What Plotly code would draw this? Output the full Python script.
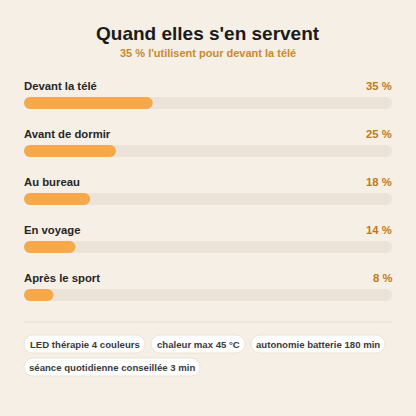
import math
import plotly.graph_objects as go

categories = ["Devant la télé", "Avant de dormir", "Au bureau", "En voyage", "Après le sport"]
values = [35, 25, 18, 14, 8]
chips = [["LED thérapie 4 couleurs", "chaleur max 45 °C", "autonomie batterie 180 min"],
         ["séance quotidienne conseillée 3 min"]]

W = 416.0
bg = "#f5efe6"
ypos = [103 + 48 * i for i in range(len(categories))]

fig = go.Figure()
for vals, col in [([100] * len(values), "#ebe3d8"), (values, "#f5a94a")]:
    fig.add_trace(go.Bar(x=vals, base=0.001, y=ypos, orientation="h", width=12,
                         marker=dict(color=col, cornerradius="50%", line_width=0), hoverinfo="skip"))

ann = []
font = "Liberation Sans, Arial, sans-serif"


def txt(x, y, text, size, color, anchor="center"):
    ann.append(dict(xref="paper", yref="paper", x=x / W, y=1 - y / W, text=text, showarrow=False,
                    xanchor=anchor, yanchor="middle", font=dict(size=size, color=color, family=font)))


txt(208, 33, "<b>Quand elles s'en servent</b>", 19, "#1a1a1a")
txt(208, 53, "<b>35 % l'utilisent pour devant la télé</b>", 11, "#c98a2a")
for c, v, y in zip(categories, values, ypos):
    txt(22, y - 17, "<b>%s</b>" % c, 11.3, "#262626", "left")
    txt(394, y - 17, "<b>%d %%</b>" % v, 11.3, "#c07a1a", "right")

shapes = [dict(type="line", xref="paper", yref="paper", x0=24 / W, x1=392 / W, y0=1 - 322 / W, y1=1 - 322 / W,
               line=dict(color="#e6dccd", width=1))]


def pill(x0, x1, yc, h=18):
    r = h / 2
    pts = []
    for k in range(13):
        a = -math.pi / 2 + math.pi * k / 12
        pts.append((x1 - r + r * math.cos(a), yc + r * math.sin(a)))
    for k in range(13):
        a = math.pi / 2 + math.pi * k / 12
        pts.append((x0 + r + r * math.cos(a), yc + r * math.sin(a)))
    return "M " + " L ".join("%f,%f" % (px / W, 1 - py / W) for px, py in pts) + " Z"


chip_x = [[(24, 145), (151, 245), (251, 385)], [(24, 200)]]
for row, (labels, xs) in enumerate(zip(chips, chip_x)):
    yc = 344 + 23 * row
    for t, (a, b) in zip(labels, xs):
        shapes.append(dict(type="path", xref="paper", yref="paper", path=pill(a, b, yc),
                           fillcolor="white", line=dict(color="#ebe2d4", width=1)))
        txt((a + b) / 2, yc, "<b>%s</b>" % t, 9.6, "#3a3a3a")

fig.update_layout(width=416, height=416, margin=dict(l=0, r=0, t=0, b=0),
                  paper_bgcolor=bg, plot_bgcolor=bg, barmode="overlay", showlegend=False,
                  annotations=ann, shapes=shapes,
                  xaxis=dict(domain=[24 / W, 392 / W], range=[0, 100], visible=False, fixedrange=True),
                  yaxis=dict(domain=[0, 1], range=[416, 0], visible=False, fixedrange=True))
fig.write_html("out.html", config={"displayModeBar": False},
               post_script="document.body.style.margin='0';")
